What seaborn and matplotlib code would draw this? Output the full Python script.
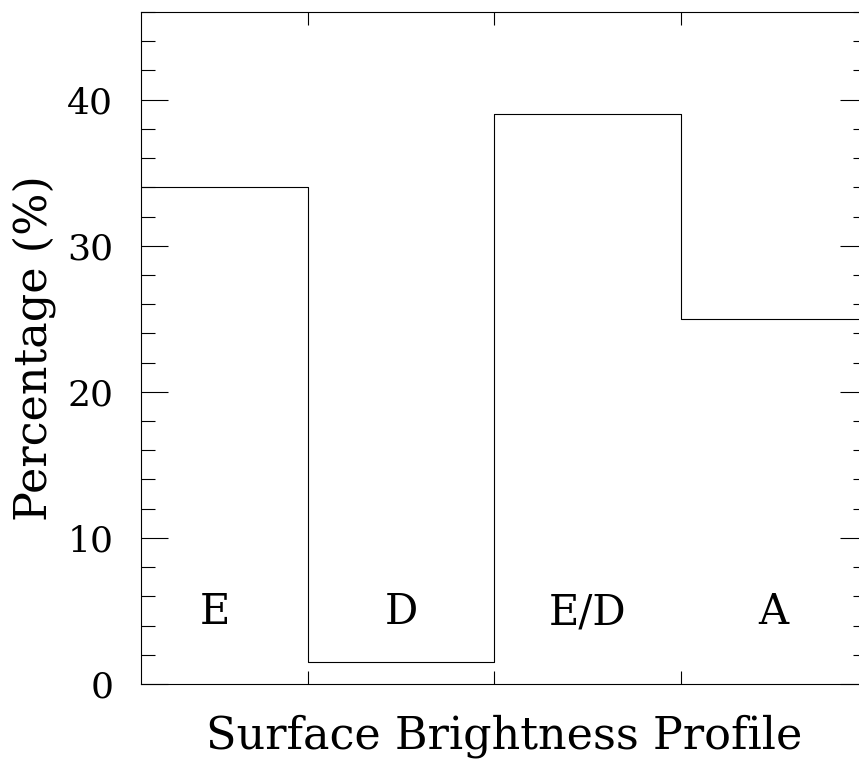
import matplotlib
matplotlib.use("Agg")
import matplotlib.pyplot as plt
import seaborn as sns
from matplotlib.ticker import MultipleLocator

# Surface brightness profile classes and their percentages
profiles = ['E', 'D', 'E/D', 'A']
bin_centers = [0.5, 1.5, 2.5, 3.5]
bin_edges = [0, 1, 2, 3, 4]
percent = [34.0, 1.5, 39.0, 25.0]

sns.set_style("ticks")
plt.rcParams['font.family'] = ['DejaVu Serif']
plt.rcParams['text.color'] = 'black'
plt.rcParams['axes.labelcolor'] = 'black'
plt.rcParams['ytick.color'] = 'black'
plt.rcParams['xtick.color'] = 'black'

fig = plt.figure(figsize=(8.59, 7.59), dpi=100)
ax = fig.add_axes([0.1641, 0.0988, 0.8452, 0.8854])

sns.histplot(x=bin_centers, weights=percent, bins=bin_edges, element='step',
             fill=False, color='black', linewidth=0.8, ax=ax)

for lab, xc in zip(profiles, bin_centers):
    ax.text(xc, 4.9, lab, ha='center', va='center', fontsize=30, color='black')

ax.set_xlim(0.105, 4.0)
ax.set_ylim(0, 46)
ax.xaxis.set_major_locator(MultipleLocator(1))
ax.yaxis.set_major_locator(MultipleLocator(10))
ax.yaxis.set_minor_locator(MultipleLocator(2))
ax.set_xticklabels([])
ax.tick_params(axis='x', which='major', direction='in', top=True, bottom=True,
               length=9.5, width=0.8, labelbottom=False)
ax.tick_params(axis='y', which='major', direction='in', left=True, right=True,
               length=19.5, width=0.8, labelsize=26, pad=20)
ax.tick_params(axis='y', which='minor', direction='in', left=True, right=True,
               length=10, width=0.8)
for s in ax.spines.values():
    s.set_linewidth(0.8)
    s.set_color('black')

ax.set_xlabel('Surface Brightness Profile', fontsize=32, labelpad=22)
ax.set_ylabel('Percentage (%)', fontsize=32, labelpad=8)

fig.savefig('out.png', dpi=100)
